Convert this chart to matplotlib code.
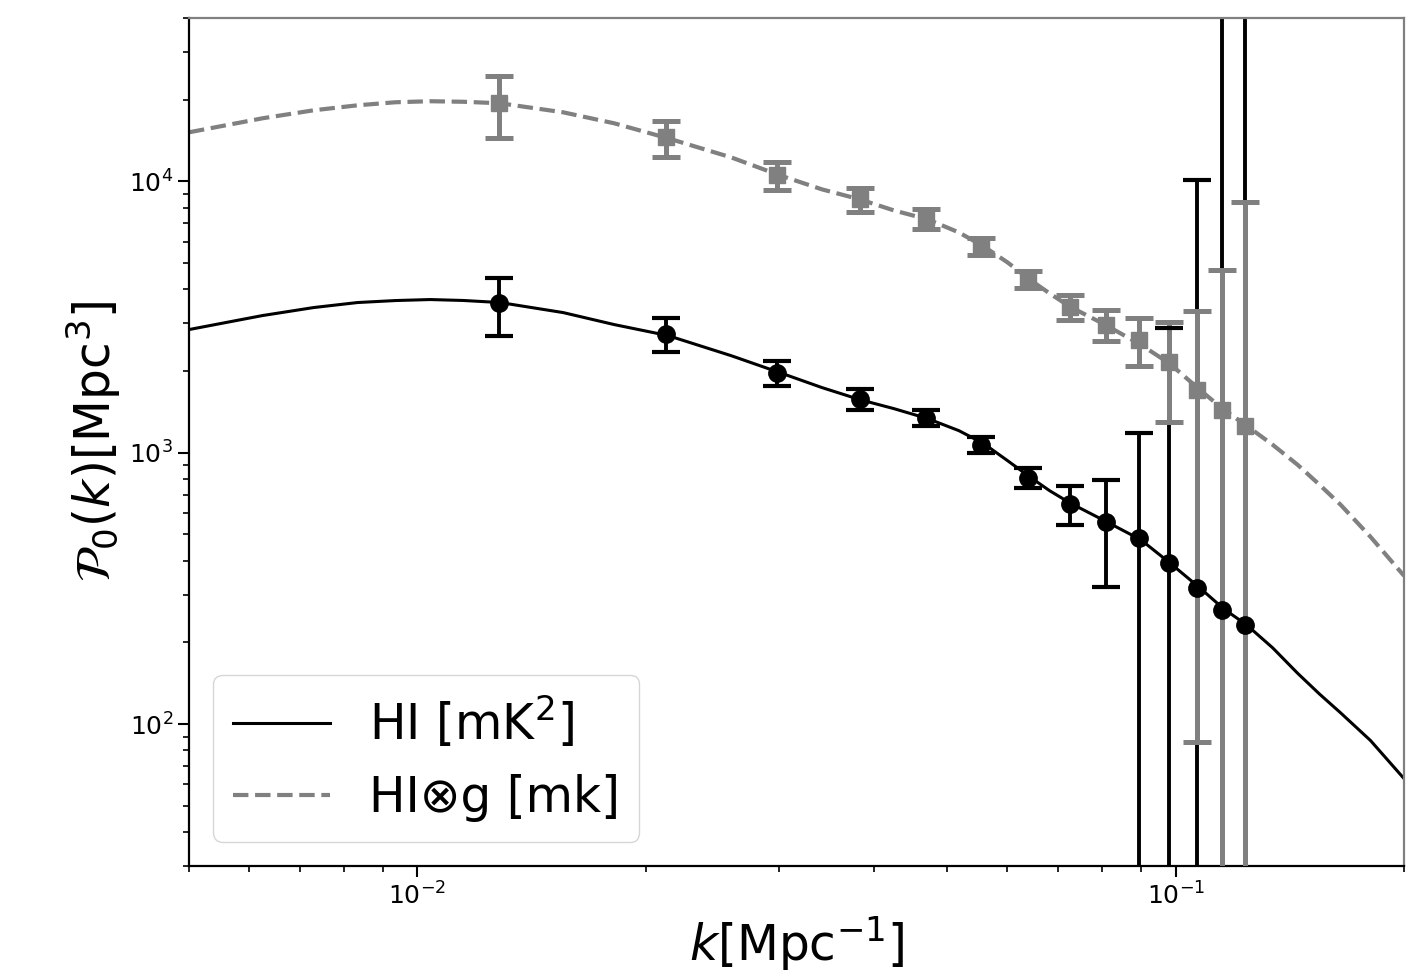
import numpy as np
import matplotlib
matplotlib.use('Agg')
import matplotlib.pyplot as plt

# band-power bins (k in 1/Mpc)
k_bins = [0.0128, 0.0213, 0.0298, 0.0384, 0.0469, 0.0554, 0.0639,
          0.0725, 0.0810, 0.0895, 0.0980, 0.1066, 0.1151, 0.1236]

# HI auto power spectrum [mK^2 Mpc^3]
p_hi = [3548, 2748, 1972, 1583, 1346, 1071, 809, 648, 556, 486, 393, 318, 264, 232]
p_hi_err = [860, 395, 210, 141, 87, 70, 69, 105, 235, 700, 2500, 9760, 60000, 90000]

# HI x galaxy cross power spectrum [mK Mpc^3]
p_x = [19400, 14530, 10520, 8582, 7303, 5754, 4347, 3458, 2966, 2612, 2168, 1708, 1442, 1258]
p_x_err = [5000, 2230, 1250, 875, 620, 420, 313, 367, 380, 530, 875, 1622, 3290, 7110]

# model curves
k_model = [0.0050, 0.00625, 0.00730, 0.00834, 0.00936, 0.0104, 0.0115, 0.01286, 0.01557,
           0.01818, 0.02141, 0.02593, 0.03008, 0.03417, 0.03834, 0.0425, 0.04713,
           0.05178, 0.05585, 0.06005, 0.0642, 0.06823, 0.07249, 0.08063, 0.08994,
           0.0982, 0.10755, 0.11568, 0.12403, 0.13424, 0.14478, 0.15477, 0.165,
           0.18066, 0.2000]
model_hi = [2844, 3203, 3428, 3577, 3638, 3669, 3640, 3577, 3285, 2967, 2702, 2279, 1972,
            1738, 1569, 1454, 1335, 1206, 1080, 934, 815, 724, 654, 561, 478, 393,
            318, 266, 232, 191, 154, 129, 110, 87, 63]
model_x = [15165, 17080, 18280, 19070, 19570, 19740, 19650, 19400, 17970, 16370, 14410,
           12260, 10520, 9344, 8583, 7816, 7240, 6483, 5755, 5022, 4347, 3862, 3457,
           2967, 2502, 2130, 1708, 1441, 1258, 1070, 903, 762, 643, 490, 352]

grey = 'gray'

fig = plt.figure(figsize=(14.1, 9.77), dpi=100)
ax = fig.add_axes([189/1410, 1 - 866/977, 1215/1410, 848/977])

ax.plot(k_model, model_hi, color='k', lw=2.2, label=r'HI [mK$^2$]', zorder=1)
ax.plot(k_model, model_x, color=grey, lw=3, ls='--', label='HI⊗g [mk]', zorder=1)

# black error bars
_, caps_hi, bars_hi = ax.errorbar(k_bins, p_hi, yerr=p_hi_err, fmt='none', ecolor='k',
                                  elinewidth=2.8, capsize=10, capthick=3)
for b in bars_hi:
    b.set_zorder(2)
for c in caps_hi:
    c.set_zorder(3.2)

# grey error bars drawn over the black ones
_, caps_x, bars_x = ax.errorbar(k_bins, p_x, yerr=p_x_err, fmt='none', ecolor=grey,
                                elinewidth=3.6, capsize=10, capthick=3.6)
for b in bars_x:
    b.set_zorder(3)
for c in caps_x:
    c.set_zorder(3.1)

ax.plot(k_bins, p_x, 's', color=grey, ms=11, zorder=3.5)
ax.plot(k_bins, p_hi, 'o', color='k', ms=12.5, zorder=4)

ax.set_xscale('log')
ax.set_yscale('log')
ax.set_xlim(0.005, 0.2)
ax.set_ylim(30, 4.0e4)

ax.tick_params(which='major', labelsize=18, length=8, width=1.5)
ax.tick_params(which='minor', length=4.5, width=1.2)
for s in ['left', 'bottom']:
    ax.spines[s].set_linewidth(1.6)
for s in ['top', 'right']:
    ax.spines[s].set_linewidth(1.6)
    ax.spines[s].set_color('0.5')

ax.set_xlabel(r'$k[\mathrm{Mpc}^{-1}]$', fontsize=35)
ax.set_ylabel(r'$\mathcal{P}_0(k)[\mathrm{Mpc}^3]$', fontsize=35)

ax.legend(loc='lower left', fontsize=35)

fig.savefig('out.png', dpi=100)
